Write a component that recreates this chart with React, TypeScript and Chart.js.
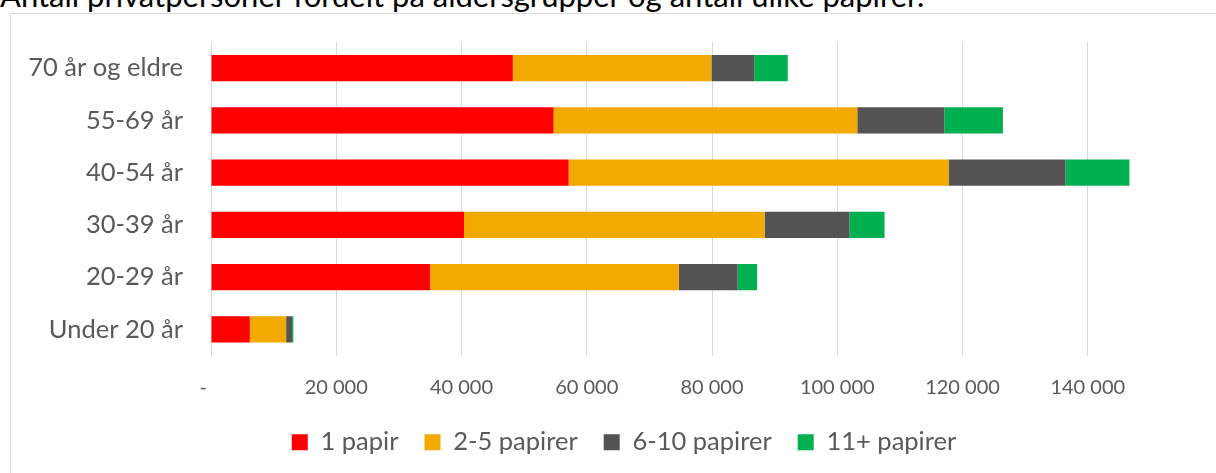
import React, { useEffect, useRef } from "react";
import { Chart, registerables } from "chart.js";

Chart.register(...registerables);

const titleText = "Antall privatpersoner fordelt på aldersgrupper og antall ulike papirer.";
const categories = ["70 år og eldre", "55-69 år", "40-54 år", "30-39 år", "20-29 år", "Under 20 år"];
const seriesNames = ["1 papir", "2-5 papirer", "6-10 papirer", "11+ papirer"];
const papir1 = [48200, 54700, 57100, 40400, 35000, 6200];
const papir2to5 = [31700, 48500, 60700, 48000, 39700, 5800];
const papir6to10 = [6850, 13900, 18650, 13550, 9400, 950];
const papir11plus = [5350, 9350, 10200, 5600, 3100, 200];
const seriesColors = ["#ff0000", "#f2aa00", "#535353", "#00b050"];
const axisMax = 160000;
const axisStep = 20000;

const FONT = "Lato, 'Open Sans', sans-serif";
const TEXT = "#595959";

function fmt(v: number): string {
  if (v === 0) return "-   ";
  if (v >= axisMax) return "";
  return String(v).replace(/\B(?=(\d{3})+(?!\d))/g, " ");
}

const legendShift = {
  id: "legendShift",
  afterLayout(chart: any) {
    if (chart.legend) {
      chart.legend.left += 24;
    }
  },
};

export default function App() {
  const ref = useRef<HTMLCanvasElement | null>(null);
  useEffect(() => {
    const canvas = ref.current;
    if (!canvas) return;
    const seriesData = [papir1, papir2to5, papir6to10, papir11plus];
    const chart = new Chart(canvas, {
      type: "bar",
      data: {
        labels: categories,
        datasets: seriesNames.map((name, i) => ({
          label: name,
          data: seriesData[i],
          backgroundColor: seriesColors[i],
          borderWidth: 0,
          categoryPercentage: 0.5,
          barPercentage: 1.0,
        })),
      },
      options: {
        indexAxis: "y",
        responsive: false,
        animation: false,
        devicePixelRatio: 1,
        layout: { autoPadding: false, padding: { left: 0, right: 22, top: 28, bottom: 8 } },
        scales: {
          x: {
            stacked: true,
            min: 0,
            max: axisMax,
            border: { display: false },
            grid: {
              color: (ctx: any) => (ctx.tick && ctx.tick.value >= axisMax ? "rgba(0,0,0,0)" : "#d9d9d9"),
              lineWidth: 1,
              drawTicks: false,
            },
            ticks: {
              stepSize: axisStep,
              padding: 20,
              color: TEXT,
              font: { family: FONT, size: 20 },
              maxRotation: 0,
              autoSkip: false,
              callback: (v: any) => fmt(Number(v)),
            },
            afterFit: (scale: any) => {
              scale.height = 48;
            },
          },
          y: {
            stacked: true,
            border: { display: false },
            grid: { display: false, drawTicks: true, tickLength: 28 },
            ticks: {
              padding: 0,
              color: TEXT,
              font: { family: FONT, size: 25.5 },
            },
            afterFit: (scale: any) => {
              scale.width = 200;
            },
          },
        },
        plugins: {
          legend: {
            position: "bottom",
            labels: {
              boxWidth: 16,
              boxHeight: 16,
              padding: 26,
              color: TEXT,
              font: { family: FONT, size: 25.5 },
            },
          },
          tooltip: { enabled: false },
          title: { display: false },
        },
      },
      plugins: [legendShift],
    } as any);
    return () => chart.destroy();
  }, []);

  return (
    <div
      style={{
        position: "fixed",
        left: 0,
        top: 0,
        width: 1216,
        height: 473,
        overflow: "hidden",
        background: "#ffffff",
      }}
    >
      <div
        style={{
          position: "absolute",
          left: 0,
          top: -23,
          whiteSpace: "nowrap",
          fontFamily: FONT,
          fontSize: 31,
          lineHeight: "37px",
          color: "#000000",
        }}
      >
        {titleText}
      </div>
      <div
        style={{
          position: "absolute",
          left: 10,
          top: 13,
          width: 1224,
          height: 470,
          border: "1px solid #d9d9d9",
          background: "#ffffff",
        }}
      >
        <canvas ref={ref} width={1224} height={459} style={{ display: "block", width: 1224, height: 459 }} />
      </div>
    </div>
  );
}
